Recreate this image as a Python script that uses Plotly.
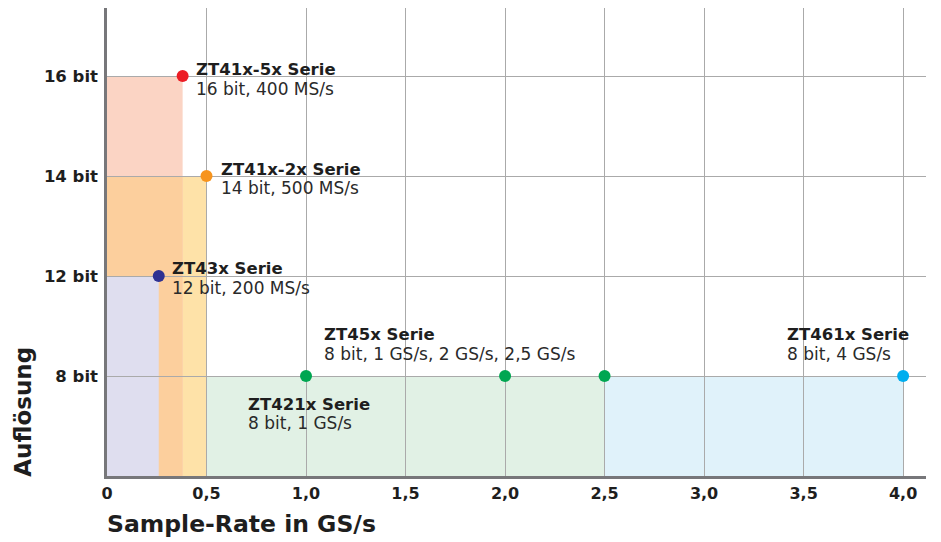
import plotly.graph_objects as go

# ---- data ----
level_vals = [1, 2, 3, 4]
level_labels = ["8 bit", "12 bit", "14 bit", "16 bit"]
x_ticks = [0, 0.5, 1.0, 1.5, 2.0, 2.5, 3.0, 3.5, 4.0]
x_tick_labels = ["0", "0,5", "1,0", "1,5", "2,0", "2,5", "3,0", "3,5", "4,0"]

# points (sample rate in GS/s as drawn, resolution level)
point_x = [0.38, 0.5, 0.26, 1.0, 2.0, 2.5, 4.0]
point_level = [4, 3, 2, 1, 1, 1, 1]
point_colors = ["#ec1c24", "#f7941d", "#2e3192", "#00a651", "#00a651", "#00a651", "#00aeef"]

# filled regions: drawn in order (x end, level, colour)
region_x = [4.0, 2.5, 0.5, 0.38, 0.38, 0.26]
region_level = [1, 1, 3, 4, 3, 2]
region_colors = ["#e0f2fa", "#e1f1e5", "#fee2a8", "#fbd4c4", "#fccf9d", "#dfdeef"]

# series labels
label_titles = ["ZT41x-5x Serie", "ZT41x-2x Serie", "ZT43x Serie", "ZT45x Serie", "ZT421x Serie", "ZT461x Serie"]
label_subs = ["16 bit, 400 MS/s", "14 bit, 500 MS/s", "12 bit, 200 MS/s",
              "8 bit, 1 GS/s, 2 GS/s, 2,5 GS/s", "8 bit, 1 GS/s", "8 bit, 4 GS/s"]
label_x = [0.38, 0.5, 0.26, 1.0, 0.70, 4.0]
label_level = [4, 3, 2, 1, 1, 1]

FONT = "DejaVu Sans"
fig = go.Figure()

shapes = []
for xe, lv, c in zip(region_x, region_level, region_colors):
    shapes.append(dict(type="rect", xref="x", yref="y", x0=0, x1=xe, y0=0, y1=lv,
                       fillcolor=c, line=dict(width=0), layer="below"))

fig.add_trace(go.Scatter(x=point_x, y=point_level, mode="markers",
                         marker=dict(size=12, color=point_colors, line=dict(width=0)),
                         showlegend=False, hoverinfo="skip", cliponaxis=False))

# label placement styles in pixels: (xshift, title yshift, subtitle yshift)
styles = [
    (11, 6.5, -12.5),
    (12, 7, -11.5),
    (11, 7.5, -11.5),
    (16, 41.5, 22.5),
    (0, -28, -46.5),
    (-118, 41.5, 22.5),
]
annotations = []
for t, s, x, lv, st in zip(label_titles, label_subs, label_x, label_level, styles):
    annotations.append(dict(
        x=x, y=lv, xref="x", yref="y", showarrow=False, align="left",
        text=f"<b>{t}</b>", xshift=st[0], yshift=st[1], xanchor="left", yanchor="middle",
        font=dict(family=FONT, size=16.5, color="#1e1e1e"),
    ))
    annotations.append(dict(
        x=x, y=lv, xref="x", yref="y", showarrow=False, align="left",
        text=s, xshift=st[0], yshift=st[2], xanchor="left", yanchor="middle",
        font=dict(family=FONT, size=17, color="#2a2a2a"),
    ))

annotations.append(dict(x=-0.003, y=-0.102, xref="paper", yref="paper", showarrow=False,
                        text="<b>Sample-Rate in GS/s</b>", xanchor="left", yanchor="middle",
                        font=dict(family=FONT, size=23.5, color="#1e1e1e")))
annotations.append(dict(x=-0.1026, y=-0.006, xref="paper", yref="paper", showarrow=False,
                        text="<b>Auflösung</b>", textangle=-90, xanchor="center", yanchor="bottom",
                        font=dict(family=FONT, size=23, color="#1e1e1e")))

fig.update_layout(
    width=941, height=542,
    margin=dict(l=107, r=15, t=8, b=66),
    paper_bgcolor="white", plot_bgcolor="white",
    shapes=shapes, annotations=annotations,
    xaxis=dict(range=[0, 4.115], tickvals=x_ticks, ticktext=[f"<b>{l}</b>" for l in x_tick_labels],
               showgrid=True, gridcolor="#aaaaaa", gridwidth=1, zeroline=False,
               showline=True, linecolor="#77777a", linewidth=2.5,
               ticks="outside", ticklen=1, tickcolor="rgba(0,0,0,0)",
               tickfont=dict(family=FONT, size=16, color="#1e1e1e")),
    yaxis=dict(range=[0, 4.68], tickvals=level_vals, ticktext=[f"<b>{l}</b>" for l in level_labels],
               showgrid=True, gridcolor="#aaaaaa", gridwidth=1, zeroline=False,
               showline=True, linecolor="#77777a", linewidth=2.5,
               ticks="outside", ticklen=3, tickcolor="rgba(0,0,0,0)",
               tickfont=dict(family=FONT, size=16.5, color="#1e1e1e")),
)

fig.write_html("out.html", config={"displayModeBar": False},
               post_script="document.body.style.margin='0';")
